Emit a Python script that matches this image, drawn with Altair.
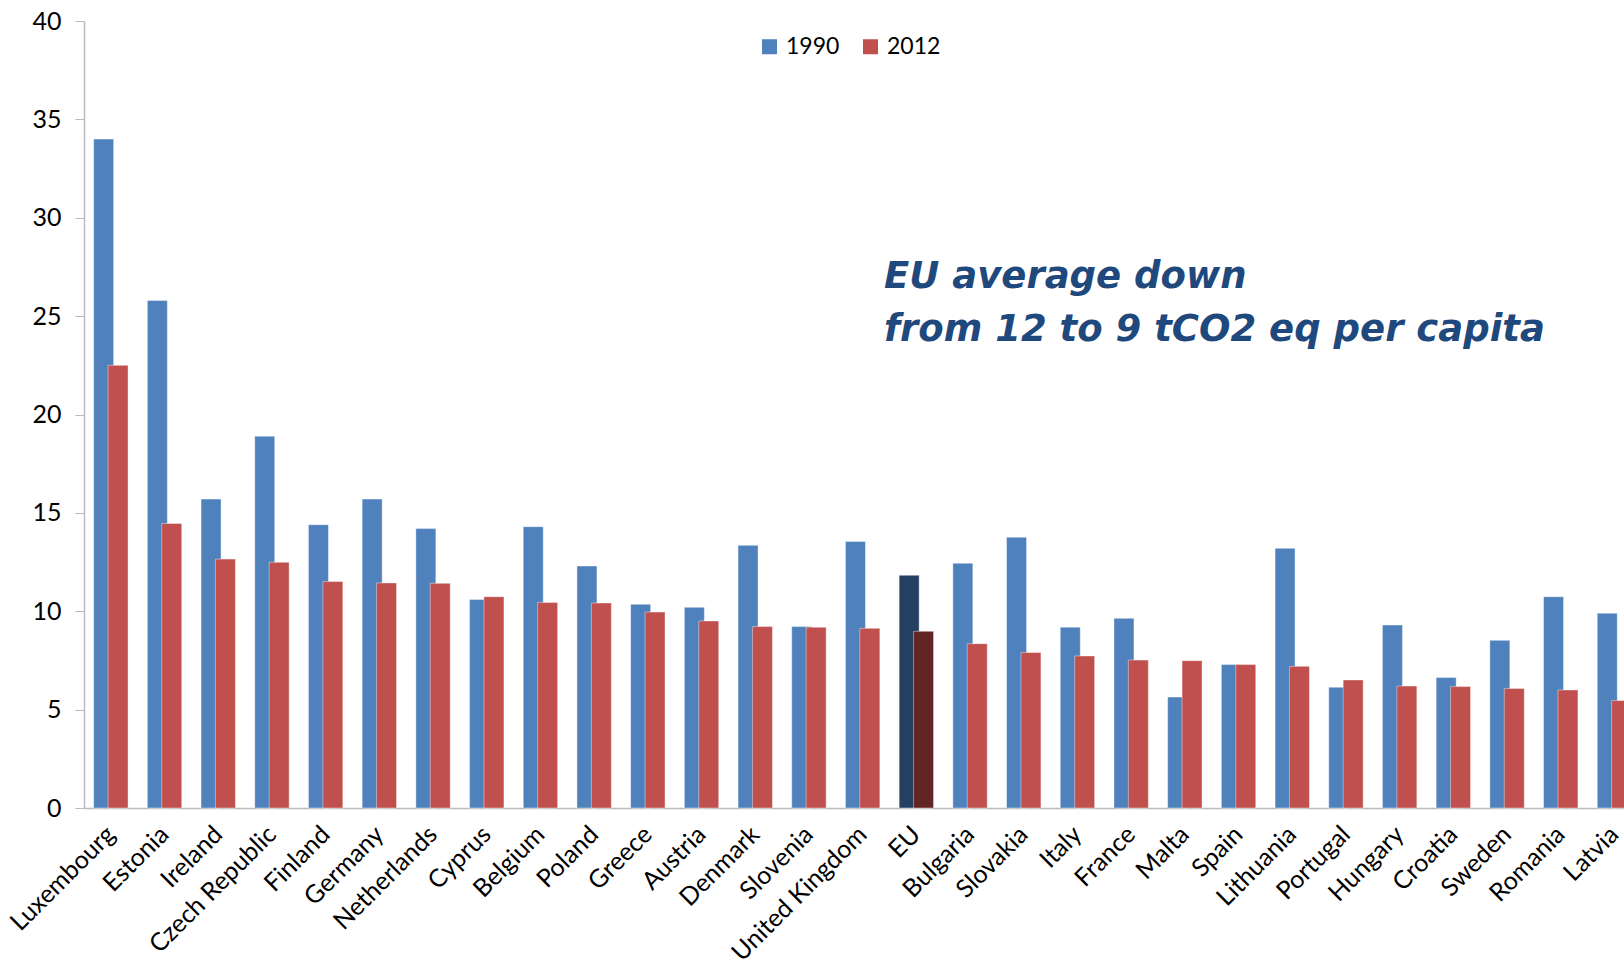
import altair as alt
import pandas as pd

countries = ["Luxembourg", "Estonia", "Ireland", "Czech Republic", "Finland", "Germany",
             "Netherlands", "Cyprus", "Belgium", "Poland", "Greece", "Austria", "Denmark",
             "Slovenia", "United Kingdom", "EU", "Bulgaria", "Slovakia", "Italy", "France",
             "Malta", "Spain", "Lithuania", "Portugal", "Hungary", "Croatia", "Sweden",
             "Romania", "Latvia"]
v1990 = [34.0, 25.8, 15.7, 18.9, 14.4, 15.7, 14.2, 10.6, 14.3, 12.3, 10.35, 10.2, 13.35,
         9.22, 13.55, 11.83, 12.44, 13.76, 9.19, 9.64, 5.64, 7.29, 13.2, 6.14, 9.3, 6.63,
         8.52, 10.74, 9.9]
v2012 = [22.5, 14.46, 12.65, 12.49, 11.51, 11.44, 11.42, 10.74, 10.45, 10.42, 9.96, 9.51,
         9.22, 9.19, 9.13, 8.98, 8.35, 7.9, 7.73, 7.52, 7.49, 7.29, 7.2, 6.51, 6.2, 6.17,
         6.08, 6.0, 5.46]
years = ["1990", "2012"]
color_keys = ["1990", "2012", "EU 1990", "EU 2012"]
color_vals = ["#4F81BD", "#C0504D", "#243F60", "#632523"]
y_ticks = [0, 5, 10, 15, 20, 25, 30, 35, 40]
note_lines = ["EU average down", "from 12 to 9 tCO2 eq per capita"]

rows = []
for c, a, b in zip(countries, v1990, v2012):
    prefix = "EU " if c == "EU" else ""
    rows.append({"country": c, "year": "1990", "value": a, "key": prefix + "1990"})
    rows.append({"country": c, "year": "2012", "value": b, "key": prefix + "2012"})
df = pd.DataFrame(rows)

FONT = "Lato"
FS = 25
step = 53.7
x_span = step * len(countries)

bars = alt.Chart(df).mark_bar(
    width=20, stroke="white", strokeWidth=0.7, strokeOpacity=0.6
).encode(
    x=alt.X("country:N", sort=countries,
            scale=alt.Scale(range=[0, x_span], paddingInner=0.4637, paddingOuter=0.2318),
            axis=alt.Axis(title=None, labelAngle=-45, labelAlign="right",
                          labelBaseline="middle", labelPadding=22, ticks=False,
                          labelFontSize=FS, labelFont=FONT, labelColor="black",
                          domainColor="#BBBBBB", domainWidth=1.5,
                          labelOverlap=False, labelLimit=0, labelBound=False)),
    xOffset=alt.XOffset("year:N", sort=years,
                        scale=alt.Scale(paddingInner=0, paddingOuter=0)),
    y=alt.Y("value:Q", scale=alt.Scale(domain=[0, 40]),
            axis=alt.Axis(title=None, values=y_ticks, grid=False, tickSize=9,
                          tickColor="#BBBBBB", domainColor="#BBBBBB", domainWidth=1.5,
                          labelFontSize=FS, labelFont=FONT, labelColor="black",
                          labelPadding=14)),
    color=alt.Color("key:N",
                    scale=alt.Scale(domain=color_keys, range=color_vals),
                    legend=alt.Legend(values=years, title=None, orient="none",
                                      legendX=674, legendY=14, direction="horizontal",
                                      symbolType="square", symbolSize=225,
                                      symbolStrokeWidth=0, labelFontSize=23,
                                      labelFont=FONT, labelColor="black",
                                      labelOffset=5, columnPadding=19)),
)

note = alt.Chart(pd.DataFrame({"a": [0]})).mark_text(
    text=note_lines, align="left", baseline="alphabetic", font="DejaVu Sans",
    fontSize=37, fontWeight="bold", fontStyle="italic", color="#1F497D", lineHeight=53
).encode(x=alt.value(800), y=alt.value(267))

chart = alt.layer(bars, note).properties(
    width=1540, height=787,
    padding={"left": 84, "top": 21, "right": 0, "bottom": 151},
    autosize=alt.AutoSizeParams(type="none"),
).configure_view(stroke=None)

chart.save("out.html", embed_options={"renderer": "svg", "actions": False})
